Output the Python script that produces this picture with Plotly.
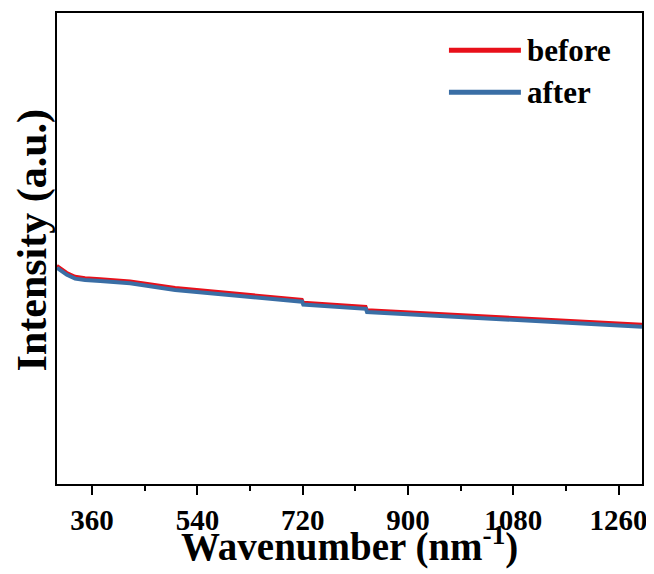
import plotly.graph_objects as go

# ==========================================
# DATA
# ==========================================

wavenumber = [300, 309, 317, 331, 348, 374, 425, 502, 613, 719, 721, 828, 830, 973, 1144, 1300]

intensity_before = [0.464, 0.455, 0.449, 0.441, 0.438, 0.436, 0.431, 0.417, 0.404, 0.392,
                    0.386, 0.377, 0.370, 0.361, 0.350, 0.339]

intensity_after = [0.459, 0.450, 0.444, 0.436, 0.433, 0.431, 0.426, 0.412, 0.399, 0.387,
                   0.381, 0.372, 0.365, 0.356, 0.345, 0.334]

series_names = ["before", "after"]
series_colors = ["#e8101a", "#3a6ea5"]

x_ticks = [360, 540, 720, 900, 1080, 1260]

FONT = "Times New Roman, Liberation Serif, serif"

# ==========================================
# FIGURE
# ==========================================

fig = go.Figure()

fig.add_trace(go.Scatter(
    x=wavenumber, y=intensity_before, mode="lines",
    line=dict(color=series_colors[0], width=3),
    name=series_names[0]
))

fig.add_trace(go.Scatter(
    x=wavenumber, y=intensity_after, mode="lines",
    line=dict(color=series_colors[1], width=4),
    name=series_names[1]
))

# legend drawn by hand (long thick lines like the original)
legend_shapes = []
notes = []
for i, (name, col) in enumerate(zip(series_names, series_colors)):
    yy = 0.921 - i * 0.089
    legend_shapes.append(dict(
        type="line", xref="paper", yref="paper",
        x0=0.670, x1=0.793, y0=yy, y1=yy,
        line=dict(color=col, width=5)
    ))
    notes.append(dict(
        x=0.800, y=yy, xref="paper", yref="paper",
        text="<b>" + name + "</b>", showarrow=False,
        xanchor="left", yanchor="middle",
        font=dict(family=FONT, size=31, color="black")
    ))

# axis titles as annotations for exact placement
notes.append(dict(
    x=0.5, y=-0.128, xref="paper", yref="paper",
    text="<b>Wavenumber (nm<sup>-1</sup>)</b>", showarrow=False,
    xanchor="center", yanchor="middle",
    font=dict(family=FONT, size=39, color="black")
))
notes.append(dict(
    x=-0.042, y=0.518, xref="paper", yref="paper",
    text="<b>Intensity (a.u.)</b>", showarrow=False, textangle=-90,
    xanchor="center", yanchor="middle",
    font=dict(family=FONT, size=42, color="black")
))

# page body has an 8px margin, so the figure is a bit smaller than the window
fig.update_layout(
    width=646,
    height=566,
    margin=dict(l=49, r=12, t=5, b=90),
    paper_bgcolor="white",
    plot_bgcolor="white",
    showlegend=False,
    shapes=legend_shapes,
    annotations=notes,
    font=dict(family=FONT, color="black"),
)

fig.update_xaxes(
    range=[300, 1300],
    automargin=False,
    tickvals=x_ticks,
    ticktext=["<b>%d</b>" % t for t in x_ticks],
    tickfont=dict(family=FONT, size=29, color="black"),
    ticks="outside", ticklen=9, tickwidth=2, tickcolor="black",
    ticklabelstandoff=0,
    minor=dict(tickvals=[450, 630, 810, 990, 1170], ticks="outside",
               ticklen=5, tickwidth=2, tickcolor="black"),
    showline=True, linecolor="black", linewidth=2, mirror=True,
    showgrid=False, zeroline=False,
)

fig.update_yaxes(
    range=[0, 1],
    automargin=False,
    showticklabels=False, ticks="",
    showline=True, linecolor="black", linewidth=2, mirror=True,
    showgrid=False, zeroline=False,
)

fig.write_html("out.html")
